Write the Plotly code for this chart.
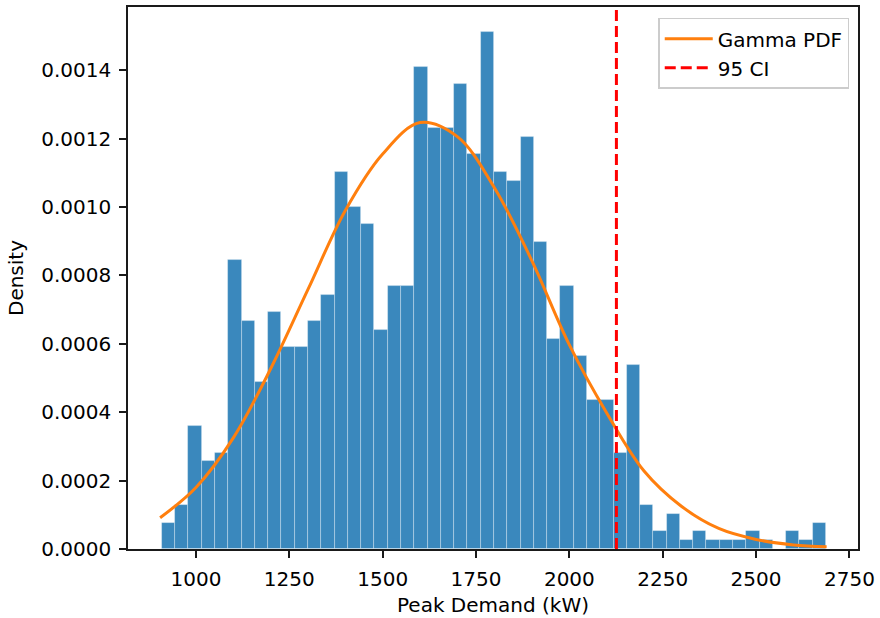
import plotly.graph_objects as go

# ---- data ----
data_min = 908.7          # kW, left edge of first bin
data_max = 2687.4         # kW, right edge of last bin
n_bins = 50
bin_counts = [3, 5, 14, 10, 11, 33, 26, 19, 27, 23, 23, 26, 29,
              43, 39, 37, 25, 30, 30, 55, 48, 48, 53, 45, 59,
              43, 42, 47, 35, 24, 30, 22, 17, 17, 11, 21, 5, 2,
              4, 1, 2, 1, 1, 1, 2, 1, 0, 2, 1, 3]

gamma_x = [904, 1000, 1100, 1200, 1300, 1400, 1500, 1600, 1700, 1800,
           1900, 2000, 2100, 2200, 2300, 2400, 2500, 2600, 2689]
gamma_y = [0.0000914, 0.000180, 0.000325, 0.000527, 0.000759, 0.000990,
           0.001155, 0.001247, 0.001206, 0.001055, 0.000842, 0.000597,
           0.000398, 0.000228, 0.000125, 0.0000600, 0.0000280, 0.0000120,
           0.0000066]

ci_95 = 2126.0
x_ticks = [1000, 1250, 1500, 1750, 2000, 2250, 2500, 2750]
y_ticks = [0.0, 0.0002, 0.0004, 0.0006, 0.0008, 0.0010, 0.0012, 0.0014]
y_tick_text = ["0.0000", "0.0002", "0.0004", "0.0006", "0.0008", "0.0010", "0.0012", "0.0014"]
y_top = 0.001585
x_range = [818, 2773]

# ---- derived histogram geometry ----
bin_w = (data_max - data_min) / n_bins
centers = [data_min + (i + 0.5) * bin_w for i in range(n_bins)]
total = sum(bin_counts)
density = [c / (total * bin_w) for c in bin_counts]

FONT = "DejaVu Sans"
FS = 20

fig = go.Figure()
fig.add_trace(go.Bar(
    x=centers, y=density, width=bin_w,
    marker=dict(color="rgba(31,119,180,0.88)",
                line=dict(color="rgba(255,255,255,0.4)", width=0.8)),
    showlegend=False, hoverinfo="skip",
))
fig.add_trace(go.Scatter(
    x=gamma_x, y=gamma_y, mode="lines", name="Gamma PDF",
    line=dict(color="#ff7f0e", width=3, shape="spline", smoothing=1.0),
))
fig.add_trace(go.Scatter(
    x=[ci_95, ci_95], y=[0, y_top], mode="lines", name="95 CI",
    line=dict(color="red", width=3, dash="11px,5px"),
))

axis_common = dict(
    showline=True, linecolor="#1a1a1a", linewidth=1.6, mirror=True,
    ticks="outside", ticklen=7, tickwidth=1.6, tickcolor="#1a1a1a",
    showgrid=False, zeroline=False, ticklabelstandoff=4,
    tickfont=dict(family=FONT, size=FS, color="black"),
)

fig.update_layout(
    width=880, height=618,
    margin=dict(l=128, r=17, t=5, b=63),
    paper_bgcolor="white", plot_bgcolor="white",
    bargap=0,
    font=dict(family=FONT, size=FS, color="black"),
    xaxis=dict(range=x_range, tickvals=x_ticks,
               title=dict(text="Peak Demand (kW)", font=dict(family=FONT, size=FS), standoff=8),
               **axis_common),
    yaxis=dict(range=[0, y_top], tickvals=y_ticks, ticktext=y_tick_text,
               title=dict(text="Density", font=dict(family=FONT, size=FS), standoff=12),
               **axis_common),
    legend=dict(x=0.988, y=0.98, xanchor="right", yanchor="top",
                bgcolor="rgba(255,255,255,0.8)", bordercolor="#cccccc", borderwidth=1.5,
                itemwidth=48,
                font=dict(family=FONT, size=FS, color="black")),
)

fig.write_html("out.html", config={"displayModeBar": False},
               post_script="document.body.style.margin='0';")
